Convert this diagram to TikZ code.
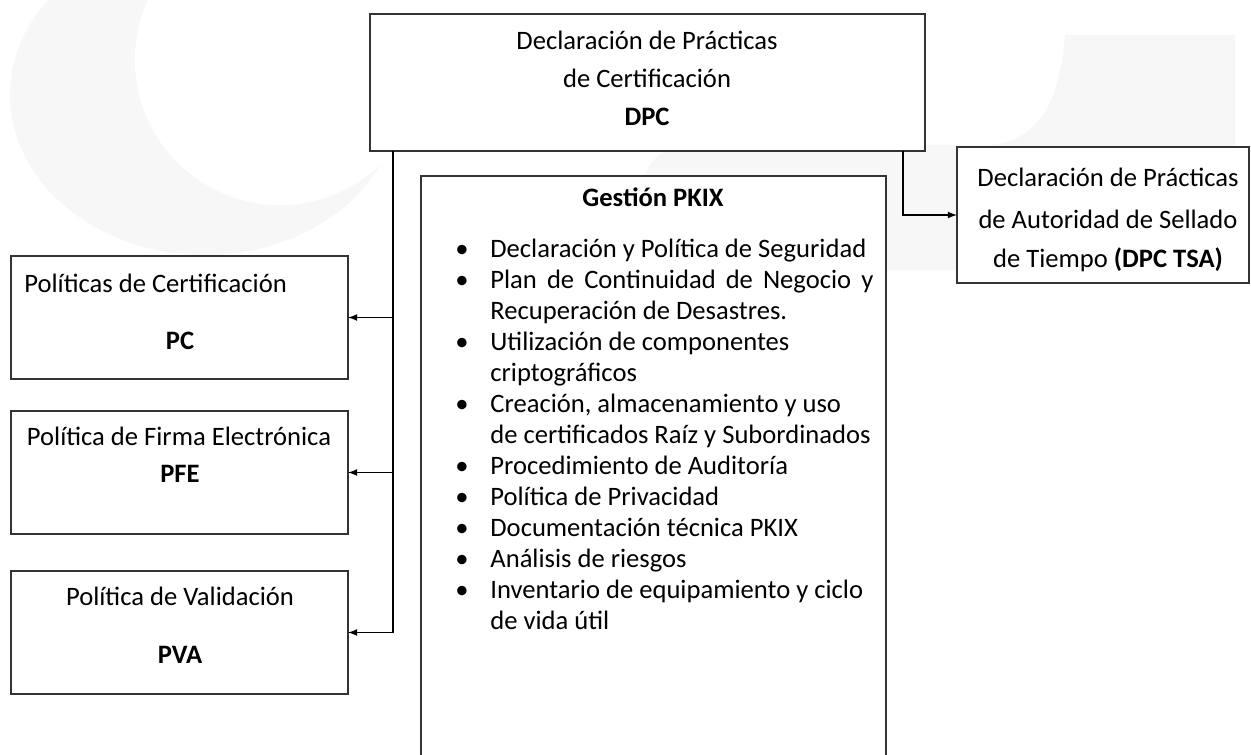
\documentclass[tikz,border=0pt]{standalone}
\usepackage{fontspec}
\setmainfont{Carlito}
\usetikzlibrary{shapes,arrows,positioning,calc}

\newcommand{\itm}{\makebox[17.5pt][l]{\textbullet}}
\newcommand{\cnt}{\hspace*{17.5pt}}

\begin{document}
\begin{tikzpicture}[x=0.5pt,y=-0.5pt,
  box/.style={draw=black!80,line width=0.75pt,fill=white,inner sep=0pt,outer sep=0pt},
  txt/.style={inner sep=0pt,font=\fontsize{13.3}{15.5}\selectfont},
  link/.style={line width=0.6pt,-latex}]
\useasboundingbox (0,0) rectangle (1251,754);
% watermark in the back
\fill[black!3] (205,95) ellipse [x radius=195,y radius=160];
\fill[white] (280,60) circle [radius=145];
\fill[black!3] (1065,35) -- (1235,35) -- (1235,270) -- (700,270)
  .. controls (660,270) and (640,250) .. (640,210)
  .. controls (640,160) and (660,145) .. (700,145) -- (990,145)
  .. controls (1040,140) and (1060,100) .. (1065,35) -- cycle;

% boxes
\node[box,minimum width=277.5pt,minimum height=68.5pt] (dpc) at (647.5,82.5) {};
\node[box,minimum width=146pt,minimum height=68pt] (tsa) at (1103,215) {};
\node[box,minimum width=232.5pt,minimum height=312pt] (pkix) at (653.5,488) {};
\node[box,minimum width=168.5pt,minimum height=61.5pt] (pc) at (179.5,317.5) {};
\node[box,minimum width=168.5pt,minimum height=61.5pt] (pfe) at (179.5,472.5) {};
\node[box,minimum width=168.5pt,minimum height=61.5pt] (pva) at (179.5,632.5) {};

% texts
\node[txt,anchor=base] (dpcA) at (647,50) {Declaración de Prácticas};
\node[txt,anchor=base] (dpcB) at (647,88) {de Certificación};
\node[txt,anchor=base] (dpcC) at (647,126) {\textbf{DPC}};
\node[txt,anchor=base] (tsaA) at (1108,187) {Declaración de Prácticas};
\node[txt,anchor=base] (tsaB) at (1108,228) {de Autoridad de Sellado};
\node[txt,anchor=base] (tsaC) at (1108,267) {de Tiempo \textbf{(DPC TSA)}};
\node[txt,anchor=base] (pkixT) at (653,206) {\textbf{Gestión PKIX}};
\node[txt,anchor=base west,align=left] (pkixL) at (455,629) {%
  \itm Declaración y Política de Seguridad\\
  \itm \makebox[191.5pt][s]{Plan de Continuidad de Negocio y}\\
  \cnt Recuperación de Desastres.\\
  \itm Utilización de componentes\\
  \cnt criptográficos\\
  \itm Creación, almacenamiento y uso\\
  \cnt de certificados Raíz y Subordinados\\
  \itm Procedimiento de Auditoría\\
  \itm Política de Privacidad\\
  \itm Documentación técnica PKIX\\
  \itm Análisis de riesgos\\
  \itm Inventario de equipamiento y ciclo\\
  \cnt de vida útil};
\node[txt,anchor=base west] (pcA) at (24,292) {Políticas de Certificación};
\node[txt,anchor=base] (pcB) at (180,349) {\textbf{PC}};
\node[txt,anchor=base] (pfeA) at (179,445) {Política de Firma Electrónica};
\node[txt,anchor=base] (pfeB) at (180,482) {\textbf{PFE}};
\node[txt,anchor=base] (pvaA) at (180,605) {Política de Validación};
\node[txt,anchor=base] (pvaB) at (180,663) {\textbf{PVA}};

% connectors
\coordinate (trunk) at (393,151);
\coordinate (tsaout) at (903,151);
\draw[link] (trunk) |- (pva.east);
\draw[link] (trunk |- pc.east) -- (pc.east);
\draw[link] (trunk |- pfe.east) -- (pfe.east);
\draw[link] (tsaout) |- (tsa.west);
\end{tikzpicture}
\end{document}
